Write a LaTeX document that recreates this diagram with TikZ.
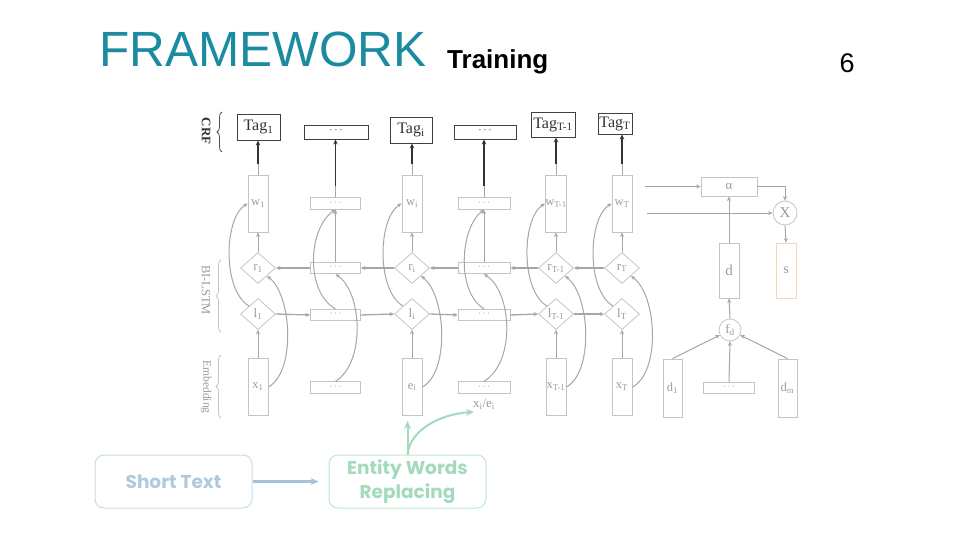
\documentclass[tikz,border=0pt]{standalone}
\usepackage{fontspec}
\setmainfont{Liberation Serif}
\newfontfamily\arialf{Liberation Sans}
\newfontfamily\popf{Poppins}
\usetikzlibrary{shapes.geometric,arrows.meta,decorations.pathreplacing,calc}
\definecolor{tealt}{HTML}{1B8BA0}
\definecolor{lg}{HTML}{C4C4C4}
\definecolor{lgt}{HTML}{9A9A9A}
\definecolor{ln}{HTML}{A6A6A6}
\definecolor{sbl}{HTML}{C4DCEA}
\definecolor{sblt}{HTML}{AFCADD}
\definecolor{sbla}{HTML}{A4C3DA}
\definecolor{sgr}{HTML}{BBE6CF}
\definecolor{sgrt}{HTML}{A2DABB}
\definecolor{sor}{HTML}{F3D6BE}
\newcommand{\dotsx}{\textperiodcentered\,\textperiodcentered\,\textperiodcentered}
\tikzset{
  vbox/.style={draw=lg, line width=0.8pt, minimum width=20pt, minimum height=57pt, inner sep=0pt, text=lgt, font=\fontsize{12.5}{12.5}\selectfont},
  dbox/.style={draw=lg, line width=0.8pt, minimum width=50pt, minimum height=11.5pt, inner sep=0pt, text=lgt, font=\fontsize{9}{9}\selectfont},
  dia/.style={diamond, draw=lg, line width=0.8pt, minimum width=35pt, minimum height=31pt, inner sep=0pt, text=lgt, font=\fontsize{13}{13}\selectfont},
  tagbox/.style={draw=black!75, line width=0.9pt, inner sep=0pt, text=black!80, font=\fontsize{16}{16}\selectfont},
  arr/.style={draw=ln, line width=1pt, -{Stealth[length=4.5pt,width=4pt]}},
  gline/.style={draw=ln, line width=1pt},
  tarr/.style={draw=black!80, line width=1.1pt, -{Stealth[length=5pt,width=4.5pt]}},
  brc/.style={decorate, decoration={brace, amplitude=5pt}, line width=0.8pt},
  lbl/.style={rotate=-90, font=\fontsize{12.5}{12.5}\selectfont},
  bigbox/.style={rounded corners=9pt, line width=1pt, minimum width=157pt, minimum height=53pt, inner sep=0pt, align=center, font=\popf\bfseries\fontsize{18.5}{24}\selectfont}
}
\begin{document}
\begin{tikzpicture}[x=1pt,y=-1pt]
\useasboundingbox (0,0) rectangle (960,540);
% header
\node[anchor=base west, inner sep=0, text=tealt, font=\arialf\fontsize{49.5}{50}\selectfont] (title) at (99,67) {FRAMEWORK};
\node[anchor=base west, inner sep=0, font=\arialf\bfseries\fontsize{26}{26}\selectfont] (sub) at (447,69) {Training};
\node[anchor=base west, inner sep=0, font=\arialf\fontsize{27}{27}\selectfont] (pg) at (839.5,73) {6};

% tag row
\node[tagbox, minimum width=43pt, minimum height=26pt] (t1) at (258.5,127) {Tag\textsubscript{1}};
\node[tagbox, minimum width=64pt, minimum height=14pt, font=\fontsize{10}{10}\selectfont] (t2) at (336,132) {\dotsx};
\node[tagbox, minimum width=42pt, minimum height=26pt] (t3) at (411,130) {Tag\textsubscript{i}};
\node[tagbox, minimum width=62pt, minimum height=14pt, font=\fontsize{10}{10}\selectfont] (t4) at (485,132) {\dotsx};
\node[tagbox, minimum width=44pt, minimum height=25pt] (t5) at (553,124.5) {Tag\textsubscript{T-1}};
\node[tagbox, minimum width=34pt, minimum height=21pt] (t6) at (615,123.5) {Tag\textsubscript{T}};

% w row
\node[vbox] (w1) at (258,203.5) {w\textsubscript{1}};
\node[dbox] (wm2) at (335.5,203.5) {\dotsx};
\node[vbox] (w3) at (412,203.5) {w\textsubscript{i}};
\node[dbox, minimum width=52pt] (wm4) at (484,203.5) {\dotsx};
\node[vbox] (w5) at (556,203.5) {w\textsubscript{T-1}};
\node[vbox] (w6) at (622,203.5) {w\textsubscript{T}};

% r row
\node[dia] (r1) at (258,268) {r\textsubscript{1}};
\node[dbox] (rm2) at (335.5,268) {\dotsx};
\node[dia] (r3) at (412,268) {r\textsubscript{i}};
\node[dbox, minimum width=52pt] (rm4) at (484,268) {\dotsx};
\node[dia] (r5) at (556,268) {r\textsubscript{T-1}};
\node[dia] (r6) at (622,268) {r\textsubscript{T}};

% l row
\node[dia] (l1) at (258,314) {l\textsubscript{1}};
\node[dbox] (lm2) at (335.5,315) {\dotsx};
\node[dia] (l3) at (412,314) {l\textsubscript{i}};
\node[dbox, minimum width=52pt] (lm4) at (484,315) {\dotsx};
\node[dia] (l5) at (556,314) {l\textsubscript{T-1}};
\node[dia] (l6) at (622,314) {l\textsubscript{T}};

% embedding row
\node[vbox] (x1) at (258,387) {x\textsubscript{1}};
\node[dbox] (em2) at (335.5,387.5) {\dotsx};
\node[vbox] (e3) at (412,387) {e\textsubscript{i}};
\node[dbox, minimum width=52pt] (em4) at (484,387.5) {\dotsx};
\node[inner sep=0, text=lgt, font=\fontsize{13}{13}\selectfont] (xe) at (484,404) {x\textsubscript{i}/e\textsubscript{i}};
\node[vbox] (x5) at (556,387) {x\textsubscript{T-1}};
\node[vbox] (x6) at (622,387) {x\textsubscript{T}};

% side labels
\node[lbl, text=black!80, font=\bfseries\fontsize{13}{13}\selectfont] (crf) at (206,131) {CRF};
\draw[brc, draw=black!70] (222,152) -- (222,112);
\node[lbl, text=lgt] (bil) at (206,290) {BI-LSTM};
\draw[brc, draw=lg] (221,332) -- (221,260);
\node[lbl, text=lgt, font=\fontsize{11.5}{11.5}\selectfont] (emb) at (206,387) {Embedding};
\draw[brc, draw=lg] (221,418) -- (221,355);

% w -> tag
\foreach \w/\t in {w1/t1,wm2/t2,w3/t3,wm4/t4,w5/t5,w6/t6}{
  \draw[gline] (\w.north) -- ([yshift=11pt]\w.north);
  \draw[tarr] ([yshift=11pt]\w.north) -- (\w.north |- \t.south);
}

% vertical arrows
\foreach \a/\b in {x1/l1,e3/l3,x5/l5,x6/l6,r1/w1,rm2/wm2,r3/w3,rm4/wm4,r5/w5,r6/w6}{
  \draw[arr] (\a.north) -- (\b.south);
}
% horizontal arrows
\foreach \a/\b in {l1/lm2,lm2/l3,l3/lm4,lm4/l5,l5/l6}{
  \draw[arr, line width=1.3pt] (\a.east) -- (\b.west);
}
\foreach \a/\b in {r6/r5,r5/rm4,rm4/r3,r3/rm2,rm2/r1}{
  \draw[arr, line width=1.3pt] (\a.west) -- (\b.east);
}

% curves
\draw[arr] (x1.east) .. controls (296,372) and (292,295) .. (r1.south east);
\draw[arr] (l1.north west) .. controls (222,290) and (224,218) .. (w1.west);
\draw[arr] (lm2.north) .. controls (305,292) and (308,228) .. (wm2.south);
\draw[arr] (em2.north) .. controls (366,362) and (362,292) .. (rm2.south);
\draw[arr] (e3.east) .. controls (450,372) and (446,295) .. (r3.south east);
\draw[arr] (l3.north west) .. controls (376,290) and (378,218) .. (w3.west);
\draw[arr] (lm4.north) .. controls (456,292) and (460,228) .. (wm4.south);
\draw[arr] (em4.north) .. controls (516,362) and (512,292) .. (rm4.south);
\draw[arr] (l5.north west) .. controls (520,290) and (522,218) .. (w5.west);
\draw[arr] (x5.east) .. controls (594,372) and (590,295) .. (r5.south east);
\draw[arr] (l6.north west) .. controls (586,290) and (588,218) .. (w6.west);
\draw[arr] (x6.east) .. controls (661,372) and (657,295) .. (r6.south east);

% right part
\node[draw=lg, line width=0.8pt, minimum width=56pt, minimum height=19pt, inner sep=0, text=lgt, font=\fontsize{13}{13}\selectfont] (alpha) at (729,186.5) {α};
\node[circle, draw=lg, line width=0.8pt, minimum size=24pt, inner sep=0, text=lgt, font=\fontsize{15}{15}\selectfont] (X) at (785,213) {X};
\node[vbox, minimum height=55pt, font=\fontsize{15}{15}\selectfont] (d) at (729,270.5) {d};
\node[vbox, draw=sor, minimum height=55pt, font=\fontsize{14}{14}\selectfont] (s) at (786,270.5) {s};
\node[circle, draw=lg, line width=0.8pt, minimum size=22pt, inner sep=0, text=lgt, font=\fontsize{13}{13}\selectfont] (fd) at (730,330) {f\textsubscript{d}};
\node[vbox, minimum width=19pt, minimum height=58pt] (d1) at (672.5,388) {d\textsubscript{1}};
\node[dbox, minimum width=51pt] (dm) at (729,388) {\dotsx};
\node[vbox, minimum width=19pt, minimum height=58pt] (dn) at (787.5,388) {d\textsubscript{m}};
\coordinate (wa) at (645,186.5);
\coordinate (wx) at (647,213);
\draw[arr] (wa) -- (alpha.west);
\draw[arr] (wx) -- (X.west);
\draw[arr] (alpha.east) -| (X.north);
\draw[arr] (X.south) -- (s.north);
\draw[arr] (d.north) -- (alpha.south);
\draw[arr] (fd.north) -- (d.south);
\draw[arr] (d1.north) -- (fd);
\draw[arr] (dm.north) -- (fd.south);
\draw[arr] (dn.north) -- (fd);

% bottom boxes
\node[bigbox, draw=sbl, text=sblt] (st) at (173.5,481.5) {Short Text};
\node[bigbox, draw=sgr, text=sgrt] (ew) at (407.5,481.5) {Entity Words\\Replacing};
\draw[draw=sbla, line width=2.2pt, -{Stealth[length=8pt,width=7pt]}, shorten >=10pt] (st.east) -- (ew.west);
\coordinate (gup) at (407.5,421);
\coordinate (gcur) at (474,412);
\draw[draw=sgrt, line width=2pt, -{Stealth[length=8pt,width=7pt]}] (ew.north) -- (gup);
\draw[draw=sgrt, line width=2pt, -{Stealth[length=8pt,width=7pt]}] (ew.north) .. controls (410,430) and (440,414) .. (gcur);
\end{tikzpicture}
\end{document}
